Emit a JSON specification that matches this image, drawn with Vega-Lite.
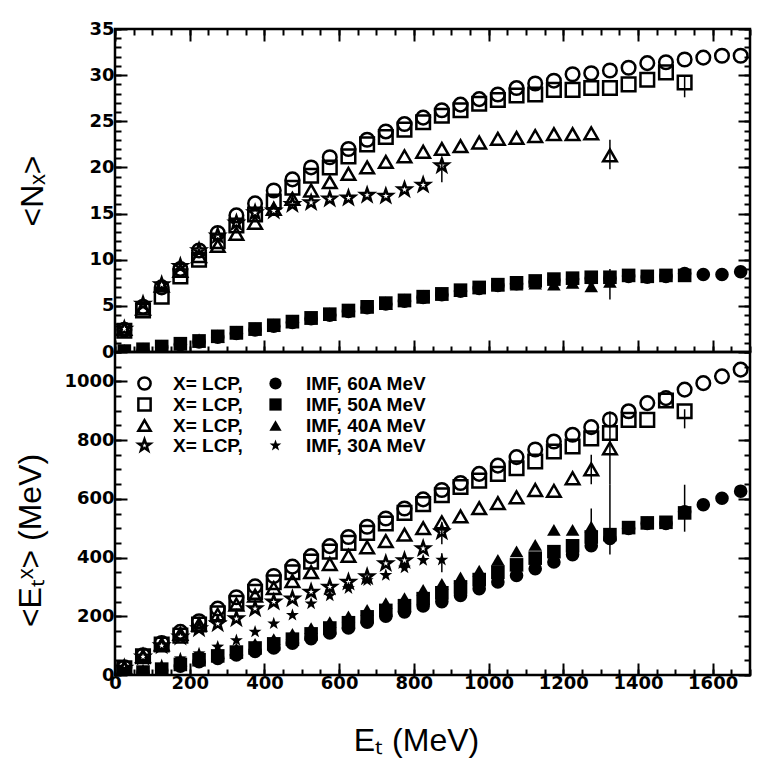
{
"$schema": "https://vega.github.io/schema/vega-lite/v6.json",
"padding": {"left": 12, "top": 18, "right": 5, "bottom": 5},
"bounds": "flush",
"spacing": 0,
"config": {
  "view": {"stroke": "black", "strokeWidth": 2.5},
  "axis": {"domain": false, "grid": false, "labelFont": "DejaVu Sans", "labelFontWeight": "bold", "labelFontSize": 18, "labelColor": "black", "tickColor": "black", "tickWidth": 2, "labelFlush": false, "labelOverlap": false, "labelBound": false, "titleFont": "Liberation Sans", "titleFontSize": 32, "titleFontWeight": "normal", "titleColor": "black"},
  "legend": {"labelFont": "Liberation Sans", "labelFontWeight": "bold", "labelFontSize": 19, "labelColor": "black", "symbolStrokeWidth": 2.5, "symbolSize": 150, "rowPadding": -5, "padding": 0, "symbolStrokeColor": "black"}
},
"resolve": {"scale": {"x": "independent", "y": "independent", "shape": "independent"}},
"datasets": {"d": [
{"p":"N","s":"L","b":"60A","e":25,"v":2.4},{"p":"N","s":"L","b":"60A","e":75,"v":4.9},{"p":"N","s":"L","b":"60A","e":125,"v":7.0},{"p":"N","s":"L","b":"60A","e":175,"v":9.0},{"p":"N","s":"L","b":"60A","e":225,"v":11.0},{"p":"N","s":"L","b":"60A","e":275,"v":12.9},{"p":"N","s":"L","b":"60A","e":325,"v":14.8},{"p":"N","s":"L","b":"60A","e":375,"v":16.1},{"p":"N","s":"L","b":"60A","e":425,"v":17.5},{"p":"N","s":"L","b":"60A","e":475,"v":18.7},{"p":"N","s":"L","b":"60A","e":525,"v":20.0},{"p":"N","s":"L","b":"60A","e":575,"v":21.1},{"p":"N","s":"L","b":"60A","e":625,"v":22.0},{"p":"N","s":"L","b":"60A","e":675,"v":23.0},{"p":"N","s":"L","b":"60A","e":725,"v":23.9},{"p":"N","s":"L","b":"60A","e":775,"v":24.7},{"p":"N","s":"L","b":"60A","e":825,"v":25.4},{"p":"N","s":"L","b":"60A","e":875,"v":26.2},{"p":"N","s":"L","b":"60A","e":925,"v":26.8},{"p":"N","s":"L","b":"60A","e":975,"v":27.4},{"p":"N","s":"L","b":"60A","e":1025,"v":27.9},{"p":"N","s":"L","b":"60A","e":1075,"v":28.6},{"p":"N","s":"L","b":"60A","e":1125,"v":29.1},{"p":"N","s":"L","b":"60A","e":1175,"v":29.4},{"p":"N","s":"L","b":"60A","e":1225,"v":30.1},{"p":"N","s":"L","b":"60A","e":1275,"v":30.2},{"p":"N","s":"L","b":"60A","e":1325,"v":30.5},{"p":"N","s":"L","b":"60A","e":1375,"v":30.8},{"p":"N","s":"L","b":"60A","e":1425,"v":31.3},{"p":"N","s":"L","b":"60A","e":1475,"v":31.4},{"p":"N","s":"L","b":"60A","e":1525,"v":31.7},{"p":"N","s":"L","b":"60A","e":1575,"v":31.9},{"p":"N","s":"L","b":"60A","e":1625,"v":32.1},{"p":"N","s":"L","b":"60A","e":1675,"v":32.1},
{"p":"N","s":"L","b":"50A","e":25,"v":2.3},{"p":"N","s":"L","b":"50A","e":75,"v":4.5},{"p":"N","s":"L","b":"50A","e":125,"v":6.0},{"p":"N","s":"L","b":"50A","e":175,"v":8.2},{"p":"N","s":"L","b":"50A","e":225,"v":10.0},{"p":"N","s":"L","b":"50A","e":275,"v":12.0},{"p":"N","s":"L","b":"50A","e":325,"v":13.7},{"p":"N","s":"L","b":"50A","e":375,"v":14.9},{"p":"N","s":"L","b":"50A","e":425,"v":16.3},{"p":"N","s":"L","b":"50A","e":475,"v":17.8},{"p":"N","s":"L","b":"50A","e":525,"v":19.1},{"p":"N","s":"L","b":"50A","e":575,"v":20.0},{"p":"N","s":"L","b":"50A","e":625,"v":21.2},{"p":"N","s":"L","b":"50A","e":675,"v":22.5},{"p":"N","s":"L","b":"50A","e":725,"v":23.3},{"p":"N","s":"L","b":"50A","e":775,"v":24.1},{"p":"N","s":"L","b":"50A","e":825,"v":24.9},{"p":"N","s":"L","b":"50A","e":875,"v":25.6},{"p":"N","s":"L","b":"50A","e":925,"v":26.2},{"p":"N","s":"L","b":"50A","e":975,"v":26.9},{"p":"N","s":"L","b":"50A","e":1025,"v":27.3},{"p":"N","s":"L","b":"50A","e":1075,"v":27.8},{"p":"N","s":"L","b":"50A","e":1125,"v":27.9},{"p":"N","s":"L","b":"50A","e":1175,"v":28.4},{"p":"N","s":"L","b":"50A","e":1225,"v":28.4},{"p":"N","s":"L","b":"50A","e":1275,"v":28.6},{"p":"N","s":"L","b":"50A","e":1325,"v":28.6},{"p":"N","s":"L","b":"50A","e":1375,"v":29.0},{"p":"N","s":"L","b":"50A","e":1425,"v":29.5},{"p":"N","s":"L","b":"50A","e":1475,"v":30.3},{"p":"N","s":"L","b":"50A","e":1525,"v":29.2,"lo":27.6,"hi":30.0},
{"p":"N","s":"L","b":"40A","e":25,"v":2.5},{"p":"N","s":"L","b":"40A","e":75,"v":4.7},{"p":"N","s":"L","b":"40A","e":125,"v":7.2},{"p":"N","s":"L","b":"40A","e":175,"v":8.8},{"p":"N","s":"L","b":"40A","e":225,"v":10.4},{"p":"N","s":"L","b":"40A","e":275,"v":11.5},{"p":"N","s":"L","b":"40A","e":325,"v":12.8},{"p":"N","s":"L","b":"40A","e":375,"v":14.0},{"p":"N","s":"L","b":"40A","e":425,"v":15.5},{"p":"N","s":"L","b":"40A","e":475,"v":16.6},{"p":"N","s":"L","b":"40A","e":525,"v":17.5},{"p":"N","s":"L","b":"40A","e":575,"v":18.4},{"p":"N","s":"L","b":"40A","e":625,"v":19.3},{"p":"N","s":"L","b":"40A","e":675,"v":20.0},{"p":"N","s":"L","b":"40A","e":725,"v":20.6},{"p":"N","s":"L","b":"40A","e":775,"v":21.2},{"p":"N","s":"L","b":"40A","e":825,"v":21.7},{"p":"N","s":"L","b":"40A","e":875,"v":22.0},{"p":"N","s":"L","b":"40A","e":925,"v":22.3},{"p":"N","s":"L","b":"40A","e":975,"v":22.7},{"p":"N","s":"L","b":"40A","e":1025,"v":23.1},{"p":"N","s":"L","b":"40A","e":1075,"v":23.2},{"p":"N","s":"L","b":"40A","e":1125,"v":23.4},{"p":"N","s":"L","b":"40A","e":1175,"v":23.6},{"p":"N","s":"L","b":"40A","e":1225,"v":23.6},{"p":"N","s":"L","b":"40A","e":1275,"v":23.7},{"p":"N","s":"L","b":"40A","e":1325,"v":21.3,"lo":19.8,"hi":23.0},
{"p":"N","s":"L","b":"30A","e":25,"v":2.5},{"p":"N","s":"L","b":"30A","e":75,"v":5.2},{"p":"N","s":"L","b":"30A","e":125,"v":7.3},{"p":"N","s":"L","b":"30A","e":175,"v":9.3},{"p":"N","s":"L","b":"30A","e":225,"v":11.0},{"p":"N","s":"L","b":"30A","e":275,"v":12.6},{"p":"N","s":"L","b":"30A","e":325,"v":14.0},{"p":"N","s":"L","b":"30A","e":375,"v":15.1},{"p":"N","s":"L","b":"30A","e":425,"v":15.3},{"p":"N","s":"L","b":"30A","e":475,"v":16.0},{"p":"N","s":"L","b":"30A","e":525,"v":16.2},{"p":"N","s":"L","b":"30A","e":575,"v":16.6},{"p":"N","s":"L","b":"30A","e":625,"v":16.7},{"p":"N","s":"L","b":"30A","e":675,"v":17.0},{"p":"N","s":"L","b":"30A","e":725,"v":16.9},{"p":"N","s":"L","b":"30A","e":775,"v":17.6},{"p":"N","s":"L","b":"30A","e":825,"v":18.1},{"p":"N","s":"L","b":"30A","e":875,"v":20.2,"lo":18.4,"hi":21.0},
{"p":"N","s":"I","b":"60A","e":25,"v":0.05},{"p":"N","s":"I","b":"60A","e":75,"v":0.2},{"p":"N","s":"I","b":"60A","e":125,"v":0.5},{"p":"N","s":"I","b":"60A","e":175,"v":0.8},{"p":"N","s":"I","b":"60A","e":225,"v":1.1},{"p":"N","s":"I","b":"60A","e":275,"v":1.6},{"p":"N","s":"I","b":"60A","e":325,"v":2.0},{"p":"N","s":"I","b":"60A","e":375,"v":2.4},{"p":"N","s":"I","b":"60A","e":425,"v":2.8},{"p":"N","s":"I","b":"60A","e":475,"v":3.2},{"p":"N","s":"I","b":"60A","e":525,"v":3.6},{"p":"N","s":"I","b":"60A","e":575,"v":4.0},{"p":"N","s":"I","b":"60A","e":625,"v":4.4},{"p":"N","s":"I","b":"60A","e":675,"v":4.8},{"p":"N","s":"I","b":"60A","e":725,"v":5.2},{"p":"N","s":"I","b":"60A","e":775,"v":5.5},{"p":"N","s":"I","b":"60A","e":825,"v":5.9},{"p":"N","s":"I","b":"60A","e":875,"v":6.2},{"p":"N","s":"I","b":"60A","e":925,"v":6.6},{"p":"N","s":"I","b":"60A","e":975,"v":6.9},{"p":"N","s":"I","b":"60A","e":1025,"v":7.2},{"p":"N","s":"I","b":"60A","e":1075,"v":7.4},{"p":"N","s":"I","b":"60A","e":1125,"v":7.6},{"p":"N","s":"I","b":"60A","e":1175,"v":7.8},{"p":"N","s":"I","b":"60A","e":1225,"v":7.9},{"p":"N","s":"I","b":"60A","e":1275,"v":8.0},{"p":"N","s":"I","b":"60A","e":1325,"v":8.0},{"p":"N","s":"I","b":"60A","e":1375,"v":8.2},{"p":"N","s":"I","b":"60A","e":1425,"v":8.1},{"p":"N","s":"I","b":"60A","e":1475,"v":8.2},{"p":"N","s":"I","b":"60A","e":1525,"v":8.5},{"p":"N","s":"I","b":"60A","e":1575,"v":8.4},{"p":"N","s":"I","b":"60A","e":1625,"v":8.4},{"p":"N","s":"I","b":"60A","e":1675,"v":8.7},
{"p":"N","s":"I","b":"50A","e":25,"v":0.1},{"p":"N","s":"I","b":"50A","e":75,"v":0.3},{"p":"N","s":"I","b":"50A","e":125,"v":0.6},{"p":"N","s":"I","b":"50A","e":175,"v":0.9},{"p":"N","s":"I","b":"50A","e":225,"v":1.2},{"p":"N","s":"I","b":"50A","e":275,"v":1.7},{"p":"N","s":"I","b":"50A","e":325,"v":2.1},{"p":"N","s":"I","b":"50A","e":375,"v":2.5},{"p":"N","s":"I","b":"50A","e":425,"v":2.9},{"p":"N","s":"I","b":"50A","e":475,"v":3.3},{"p":"N","s":"I","b":"50A","e":525,"v":3.7},{"p":"N","s":"I","b":"50A","e":575,"v":4.1},{"p":"N","s":"I","b":"50A","e":625,"v":4.5},{"p":"N","s":"I","b":"50A","e":675,"v":4.9},{"p":"N","s":"I","b":"50A","e":725,"v":5.3},{"p":"N","s":"I","b":"50A","e":775,"v":5.6},{"p":"N","s":"I","b":"50A","e":825,"v":6.0},{"p":"N","s":"I","b":"50A","e":875,"v":6.3},{"p":"N","s":"I","b":"50A","e":925,"v":6.7},{"p":"N","s":"I","b":"50A","e":975,"v":7.0},{"p":"N","s":"I","b":"50A","e":1025,"v":7.3},{"p":"N","s":"I","b":"50A","e":1075,"v":7.5},{"p":"N","s":"I","b":"50A","e":1125,"v":7.7},{"p":"N","s":"I","b":"50A","e":1175,"v":7.9},{"p":"N","s":"I","b":"50A","e":1225,"v":8.0},{"p":"N","s":"I","b":"50A","e":1275,"v":8.1},{"p":"N","s":"I","b":"50A","e":1325,"v":8.1},{"p":"N","s":"I","b":"50A","e":1375,"v":8.3},{"p":"N","s":"I","b":"50A","e":1425,"v":8.2},{"p":"N","s":"I","b":"50A","e":1475,"v":8.3},{"p":"N","s":"I","b":"50A","e":1525,"v":8.3},
{"p":"N","s":"I","b":"40A","e":25,"v":0.05},{"p":"N","s":"I","b":"40A","e":75,"v":0.2},{"p":"N","s":"I","b":"40A","e":125,"v":0.5},{"p":"N","s":"I","b":"40A","e":175,"v":0.8},{"p":"N","s":"I","b":"40A","e":225,"v":1.1},{"p":"N","s":"I","b":"40A","e":275,"v":1.6},{"p":"N","s":"I","b":"40A","e":325,"v":2.0},{"p":"N","s":"I","b":"40A","e":375,"v":2.4},{"p":"N","s":"I","b":"40A","e":425,"v":2.8},{"p":"N","s":"I","b":"40A","e":475,"v":3.2},{"p":"N","s":"I","b":"40A","e":525,"v":3.6},{"p":"N","s":"I","b":"40A","e":575,"v":4.0},{"p":"N","s":"I","b":"40A","e":625,"v":4.4},{"p":"N","s":"I","b":"40A","e":675,"v":4.8},{"p":"N","s":"I","b":"40A","e":725,"v":5.2},{"p":"N","s":"I","b":"40A","e":775,"v":5.5},{"p":"N","s":"I","b":"40A","e":825,"v":5.9},{"p":"N","s":"I","b":"40A","e":875,"v":6.2},{"p":"N","s":"I","b":"40A","e":925,"v":6.6},{"p":"N","s":"I","b":"40A","e":975,"v":6.9},{"p":"N","s":"I","b":"40A","e":1025,"v":7.2},{"p":"N","s":"I","b":"40A","e":1075,"v":7.3},{"p":"N","s":"I","b":"40A","e":1125,"v":7.4},{"p":"N","s":"I","b":"40A","e":1175,"v":7.3},{"p":"N","s":"I","b":"40A","e":1225,"v":7.5},{"p":"N","s":"I","b":"40A","e":1275,"v":7.1},{"p":"N","s":"I","b":"40A","e":1325,"v":7.6,"lo":5.7,"hi":9.0},
{"p":"N","s":"I","b":"30A","e":25,"v":0.1},{"p":"N","s":"I","b":"30A","e":75,"v":0.3},{"p":"N","s":"I","b":"30A","e":125,"v":0.6},{"p":"N","s":"I","b":"30A","e":175,"v":0.9},{"p":"N","s":"I","b":"30A","e":225,"v":1.3},{"p":"N","s":"I","b":"30A","e":275,"v":1.7},{"p":"N","s":"I","b":"30A","e":325,"v":2.1},{"p":"N","s":"I","b":"30A","e":375,"v":2.5},{"p":"N","s":"I","b":"30A","e":425,"v":2.9},{"p":"N","s":"I","b":"30A","e":475,"v":3.3},{"p":"N","s":"I","b":"30A","e":525,"v":3.7},{"p":"N","s":"I","b":"30A","e":575,"v":4.1},{"p":"N","s":"I","b":"30A","e":625,"v":4.5},{"p":"N","s":"I","b":"30A","e":675,"v":4.9},{"p":"N","s":"I","b":"30A","e":725,"v":5.3},{"p":"N","s":"I","b":"30A","e":775,"v":5.6},{"p":"N","s":"I","b":"30A","e":825,"v":6.0},{"p":"N","s":"I","b":"30A","e":875,"v":6.3},
{"p":"E","s":"L","b":"60A","e":25,"v":26},{"p":"E","s":"L","b":"60A","e":75,"v":67},{"p":"E","s":"L","b":"60A","e":125,"v":109},{"p":"E","s":"L","b":"60A","e":175,"v":147},{"p":"E","s":"L","b":"60A","e":225,"v":183},{"p":"E","s":"L","b":"60A","e":275,"v":226},{"p":"E","s":"L","b":"60A","e":325,"v":265},{"p":"E","s":"L","b":"60A","e":375,"v":302},{"p":"E","s":"L","b":"60A","e":425,"v":337},{"p":"E","s":"L","b":"60A","e":475,"v":369},{"p":"E","s":"L","b":"60A","e":525,"v":405},{"p":"E","s":"L","b":"60A","e":575,"v":439},{"p":"E","s":"L","b":"60A","e":625,"v":470},{"p":"E","s":"L","b":"60A","e":675,"v":505},{"p":"E","s":"L","b":"60A","e":725,"v":533},{"p":"E","s":"L","b":"60A","e":775,"v":567},{"p":"E","s":"L","b":"60A","e":825,"v":598},{"p":"E","s":"L","b":"60A","e":875,"v":630},{"p":"E","s":"L","b":"60A","e":925,"v":654},{"p":"E","s":"L","b":"60A","e":975,"v":685},{"p":"E","s":"L","b":"60A","e":1025,"v":713},{"p":"E","s":"L","b":"60A","e":1075,"v":742},{"p":"E","s":"L","b":"60A","e":1125,"v":768},{"p":"E","s":"L","b":"60A","e":1175,"v":795},{"p":"E","s":"L","b":"60A","e":1225,"v":818},{"p":"E","s":"L","b":"60A","e":1275,"v":844},{"p":"E","s":"L","b":"60A","e":1325,"v":870},{"p":"E","s":"L","b":"60A","e":1375,"v":898},{"p":"E","s":"L","b":"60A","e":1425,"v":926},{"p":"E","s":"L","b":"60A","e":1475,"v":943},{"p":"E","s":"L","b":"60A","e":1525,"v":972},{"p":"E","s":"L","b":"60A","e":1575,"v":994},{"p":"E","s":"L","b":"60A","e":1625,"v":1017},{"p":"E","s":"L","b":"60A","e":1675,"v":1040},
{"p":"E","s":"L","b":"50A","e":25,"v":23},{"p":"E","s":"L","b":"50A","e":75,"v":64},{"p":"E","s":"L","b":"50A","e":125,"v":104},{"p":"E","s":"L","b":"50A","e":175,"v":134},{"p":"E","s":"L","b":"50A","e":225,"v":172},{"p":"E","s":"L","b":"50A","e":275,"v":210},{"p":"E","s":"L","b":"50A","e":325,"v":246},{"p":"E","s":"L","b":"50A","e":375,"v":283},{"p":"E","s":"L","b":"50A","e":425,"v":316},{"p":"E","s":"L","b":"50A","e":475,"v":350},{"p":"E","s":"L","b":"50A","e":525,"v":386},{"p":"E","s":"L","b":"50A","e":575,"v":420},{"p":"E","s":"L","b":"50A","e":625,"v":450},{"p":"E","s":"L","b":"50A","e":675,"v":484},{"p":"E","s":"L","b":"50A","e":725,"v":516},{"p":"E","s":"L","b":"50A","e":775,"v":552},{"p":"E","s":"L","b":"50A","e":825,"v":582},{"p":"E","s":"L","b":"50A","e":875,"v":612},{"p":"E","s":"L","b":"50A","e":925,"v":640},{"p":"E","s":"L","b":"50A","e":975,"v":662},{"p":"E","s":"L","b":"50A","e":1025,"v":685},{"p":"E","s":"L","b":"50A","e":1075,"v":704},{"p":"E","s":"L","b":"50A","e":1125,"v":727},{"p":"E","s":"L","b":"50A","e":1175,"v":761},{"p":"E","s":"L","b":"50A","e":1225,"v":778},{"p":"E","s":"L","b":"50A","e":1275,"v":806},{"p":"E","s":"L","b":"50A","e":1325,"v":824},{"p":"E","s":"L","b":"50A","e":1375,"v":869},{"p":"E","s":"L","b":"50A","e":1425,"v":869},{"p":"E","s":"L","b":"50A","e":1475,"v":935},{"p":"E","s":"L","b":"50A","e":1525,"v":898,"lo":840,"hi":905},
{"p":"E","s":"L","b":"40A","e":25,"v":25},{"p":"E","s":"L","b":"40A","e":75,"v":64},{"p":"E","s":"L","b":"40A","e":125,"v":104},{"p":"E","s":"L","b":"40A","e":175,"v":140},{"p":"E","s":"L","b":"40A","e":225,"v":172},{"p":"E","s":"L","b":"40A","e":275,"v":205},{"p":"E","s":"L","b":"40A","e":325,"v":240},{"p":"E","s":"L","b":"40A","e":375,"v":270},{"p":"E","s":"L","b":"40A","e":425,"v":296},{"p":"E","s":"L","b":"40A","e":475,"v":320},{"p":"E","s":"L","b":"40A","e":525,"v":350},{"p":"E","s":"L","b":"40A","e":575,"v":378},{"p":"E","s":"L","b":"40A","e":625,"v":406},{"p":"E","s":"L","b":"40A","e":675,"v":435},{"p":"E","s":"L","b":"40A","e":725,"v":456},{"p":"E","s":"L","b":"40A","e":775,"v":478},{"p":"E","s":"L","b":"40A","e":825,"v":500},{"p":"E","s":"L","b":"40A","e":875,"v":520},{"p":"E","s":"L","b":"40A","e":925,"v":540},{"p":"E","s":"L","b":"40A","e":975,"v":568},{"p":"E","s":"L","b":"40A","e":1025,"v":585},{"p":"E","s":"L","b":"40A","e":1075,"v":605},{"p":"E","s":"L","b":"40A","e":1125,"v":630},{"p":"E","s":"L","b":"40A","e":1175,"v":627},{"p":"E","s":"L","b":"40A","e":1225,"v":670},{"p":"E","s":"L","b":"40A","e":1275,"v":700,"lo":650,"hi":750},{"p":"E","s":"L","b":"40A","e":1325,"v":772,"lo":650,"hi":897},
{"p":"E","s":"L","b":"30A","e":25,"v":24},{"p":"E","s":"L","b":"30A","e":75,"v":62},{"p":"E","s":"L","b":"30A","e":125,"v":100},{"p":"E","s":"L","b":"30A","e":175,"v":130},{"p":"E","s":"L","b":"30A","e":225,"v":158},{"p":"E","s":"L","b":"30A","e":275,"v":175},{"p":"E","s":"L","b":"30A","e":325,"v":192},{"p":"E","s":"L","b":"30A","e":375,"v":226},{"p":"E","s":"L","b":"30A","e":425,"v":249},{"p":"E","s":"L","b":"30A","e":475,"v":260},{"p":"E","s":"L","b":"30A","e":525,"v":283},{"p":"E","s":"L","b":"30A","e":575,"v":300},{"p":"E","s":"L","b":"30A","e":625,"v":317},{"p":"E","s":"L","b":"30A","e":675,"v":335},{"p":"E","s":"L","b":"30A","e":725,"v":380},{"p":"E","s":"L","b":"30A","e":775,"v":390},{"p":"E","s":"L","b":"30A","e":825,"v":431},{"p":"E","s":"L","b":"30A","e":875,"v":488,"lo":445,"hi":520},
{"p":"E","s":"I","b":"60A","e":25,"v":3},{"p":"E","s":"I","b":"60A","e":75,"v":8},{"p":"E","s":"I","b":"60A","e":125,"v":15},{"p":"E","s":"I","b":"60A","e":175,"v":30},{"p":"E","s":"I","b":"60A","e":225,"v":45},{"p":"E","s":"I","b":"60A","e":275,"v":56},{"p":"E","s":"I","b":"60A","e":325,"v":68},{"p":"E","s":"I","b":"60A","e":375,"v":80},{"p":"E","s":"I","b":"60A","e":425,"v":92},{"p":"E","s":"I","b":"60A","e":475,"v":108},{"p":"E","s":"I","b":"60A","e":525,"v":124},{"p":"E","s":"I","b":"60A","e":575,"v":143},{"p":"E","s":"I","b":"60A","e":625,"v":160},{"p":"E","s":"I","b":"60A","e":675,"v":180},{"p":"E","s":"I","b":"60A","e":725,"v":200},{"p":"E","s":"I","b":"60A","e":775,"v":215},{"p":"E","s":"I","b":"60A","e":825,"v":235},{"p":"E","s":"I","b":"60A","e":875,"v":250},{"p":"E","s":"I","b":"60A","e":925,"v":271},{"p":"E","s":"I","b":"60A","e":975,"v":294},{"p":"E","s":"I","b":"60A","e":1025,"v":317},{"p":"E","s":"I","b":"60A","e":1075,"v":339},{"p":"E","s":"I","b":"60A","e":1125,"v":362},{"p":"E","s":"I","b":"60A","e":1175,"v":385},{"p":"E","s":"I","b":"60A","e":1225,"v":410},{"p":"E","s":"I","b":"60A","e":1275,"v":440},{"p":"E","s":"I","b":"60A","e":1325,"v":465},{"p":"E","s":"I","b":"60A","e":1375,"v":499},{"p":"E","s":"I","b":"60A","e":1425,"v":516},{"p":"E","s":"I","b":"60A","e":1475,"v":516},{"p":"E","s":"I","b":"60A","e":1525,"v":556,"lo":488,"hi":648},{"p":"E","s":"I","b":"60A","e":1575,"v":580},{"p":"E","s":"I","b":"60A","e":1625,"v":602},{"p":"E","s":"I","b":"60A","e":1675,"v":626},
{"p":"E","s":"I","b":"50A","e":25,"v":4},{"p":"E","s":"I","b":"50A","e":75,"v":10},{"p":"E","s":"I","b":"50A","e":125,"v":20},{"p":"E","s":"I","b":"50A","e":175,"v":36},{"p":"E","s":"I","b":"50A","e":225,"v":52},{"p":"E","s":"I","b":"50A","e":275,"v":65},{"p":"E","s":"I","b":"50A","e":325,"v":78},{"p":"E","s":"I","b":"50A","e":375,"v":92},{"p":"E","s":"I","b":"50A","e":425,"v":106},{"p":"E","s":"I","b":"50A","e":475,"v":122},{"p":"E","s":"I","b":"50A","e":525,"v":140},{"p":"E","s":"I","b":"50A","e":575,"v":160},{"p":"E","s":"I","b":"50A","e":625,"v":178},{"p":"E","s":"I","b":"50A","e":675,"v":198},{"p":"E","s":"I","b":"50A","e":725,"v":220},{"p":"E","s":"I","b":"50A","e":775,"v":236},{"p":"E","s":"I","b":"50A","e":825,"v":260},{"p":"E","s":"I","b":"50A","e":875,"v":280},{"p":"E","s":"I","b":"50A","e":925,"v":300},{"p":"E","s":"I","b":"50A","e":975,"v":325},{"p":"E","s":"I","b":"50A","e":1025,"v":350},{"p":"E","s":"I","b":"50A","e":1075,"v":375},{"p":"E","s":"I","b":"50A","e":1125,"v":398},{"p":"E","s":"I","b":"50A","e":1175,"v":420},{"p":"E","s":"I","b":"50A","e":1225,"v":440},{"p":"E","s":"I","b":"50A","e":1275,"v":470},{"p":"E","s":"I","b":"50A","e":1325,"v":478},{"p":"E","s":"I","b":"50A","e":1375,"v":502},{"p":"E","s":"I","b":"50A","e":1425,"v":518},{"p":"E","s":"I","b":"50A","e":1475,"v":520},{"p":"E","s":"I","b":"50A","e":1525,"v":552},
{"p":"E","s":"I","b":"40A","e":25,"v":5},{"p":"E","s":"I","b":"40A","e":75,"v":12},{"p":"E","s":"I","b":"40A","e":125,"v":25},{"p":"E","s":"I","b":"40A","e":175,"v":42},{"p":"E","s":"I","b":"40A","e":225,"v":60},{"p":"E","s":"I","b":"40A","e":275,"v":75},{"p":"E","s":"I","b":"40A","e":325,"v":90},{"p":"E","s":"I","b":"40A","e":375,"v":106},{"p":"E","s":"I","b":"40A","e":425,"v":122},{"p":"E","s":"I","b":"40A","e":475,"v":140},{"p":"E","s":"I","b":"40A","e":525,"v":160},{"p":"E","s":"I","b":"40A","e":575,"v":180},{"p":"E","s":"I","b":"40A","e":625,"v":200},{"p":"E","s":"I","b":"40A","e":675,"v":222},{"p":"E","s":"I","b":"40A","e":725,"v":245},{"p":"E","s":"I","b":"40A","e":775,"v":262},{"p":"E","s":"I","b":"40A","e":825,"v":290},{"p":"E","s":"I","b":"40A","e":875,"v":310},{"p":"E","s":"I","b":"40A","e":925,"v":332},{"p":"E","s":"I","b":"40A","e":975,"v":355},{"p":"E","s":"I","b":"40A","e":1025,"v":392},{"p":"E","s":"I","b":"40A","e":1075,"v":421},{"p":"E","s":"I","b":"40A","e":1125,"v":443},{"p":"E","s":"I","b":"40A","e":1175,"v":494},{"p":"E","s":"I","b":"40A","e":1225,"v":494},{"p":"E","s":"I","b":"40A","e":1275,"v":505,"lo":440,"hi":567},{"p":"E","s":"I","b":"40A","e":1325,"v":480,"lo":410,"hi":650},
{"p":"E","s":"I","b":"30A","e":25,"v":6},{"p":"E","s":"I","b":"30A","e":75,"v":16},{"p":"E","s":"I","b":"30A","e":125,"v":33},{"p":"E","s":"I","b":"30A","e":175,"v":56},{"p":"E","s":"I","b":"30A","e":225,"v":73},{"p":"E","s":"I","b":"30A","e":275,"v":96},{"p":"E","s":"I","b":"30A","e":325,"v":118},{"p":"E","s":"I","b":"30A","e":375,"v":147},{"p":"E","s":"I","b":"30A","e":425,"v":175},{"p":"E","s":"I","b":"30A","e":475,"v":204},{"p":"E","s":"I","b":"30A","e":525,"v":243},{"p":"E","s":"I","b":"30A","e":575,"v":270},{"p":"E","s":"I","b":"30A","e":625,"v":295},{"p":"E","s":"I","b":"30A","e":675,"v":322},{"p":"E","s":"I","b":"30A","e":725,"v":340},{"p":"E","s":"I","b":"30A","e":775,"v":365},{"p":"E","s":"I","b":"30A","e":825,"v":391},{"p":"E","s":"I","b":"30A","e":875,"v":392,"lo":350,"hi":415}
]},
"vconcat": [
{
  "width": 635, "height": 323,
  "data": {"name": "d"},
  "transform": [{"filter": "datum.p == 'N'"}],
  "resolve": {"axis": {"x": "independent", "y": "independent"}, "scale": {"shape": "independent"}},
  "layer": [
    {"transform": [{"filter": "datum.s == 'L'"}],
     "mark": {"type": "point", "filled": false, "color": "black", "opacity": 1, "strokeWidth": 2.5, "size": 185, "clip": true},
     "encoding": {
       "x": {"field": "e", "type": "quantitative", "scale": {"domain": [0, 1700], "nice": false, "zero": false},
             "axis": {"orient": "bottom", "values": [0,200,400,600,800,1000,1200,1400,1600], "tickSize": -12, "labels": false, "title": null}},
       "y": {"field": "v", "type": "quantitative", "scale": {"domain": [0, 35], "nice": false},
             "axis": {"orient": "left", "values": [0,5,10,15,20,25,30,35], "tickSize": -12, "labelPadding": 13, "labelOverlap": false, "zindex": 2, "title": "<Nₓ>", "titleX": -73, "titleY": 161.5, "titleBaseline": "alphabetic", "titleAlign": "center"}},
       "shape": {"field": "b", "type": "nominal", "scale": {"domain": ["60A","50A","40A","30A"], "range": ["circle","square","triangle-up","M0,-1L0.235,-0.324L0.951,-0.309L0.38,0.124L0.588,0.809L0,0.4L-0.588,0.809L-0.38,0.124L-0.951,-0.309L-0.235,-0.324Z"]}, "legend": null}
     }},
    {"transform": [{"filter": "datum.s == 'I'"}],
     "mark": {"type": "point", "filled": true, "color": "black", "opacity": 1, "size": 185, "clip": true},
     "encoding": {
       "x": {"field": "e", "type": "quantitative", "scale": {"domain": [0, 1700], "nice": false, "zero": false},
             "axis": {"orient": "bottom", "values": [0,50,100,150,200,250,300,350,400,450,500,550,600,650,700,750,800,850,900,950,1000,1050,1100,1150,1200,1250,1300,1350,1400,1450,1500,1550,1600,1650,1700], "tickSize": -6, "labels": false, "title": null}},
       "y": {"field": "v", "type": "quantitative", "scale": {"domain": [0, 35], "nice": false},
             "axis": {"orient": "left", "values": [0,1,2,3,4,5,6,7,8,9,10,11,12,13,14,15,16,17,18,19,20,21,22,23,24,25,26,27,28,29,30,31,32,33,34,35], "tickSize": -6, "labels": false, "title": null}},
       "shape": {"field": "b", "type": "nominal", "scale": {"domain": ["60A","50A","40A","30A"], "range": ["circle","square","triangle-up","M0,-1L0.235,-0.324L0.951,-0.309L0.38,0.124L0.588,0.809L0,0.4L-0.588,0.809L-0.38,0.124L-0.951,-0.309L-0.235,-0.324Z"]}, "legend": null}
     }},
    {"transform": [{"filter": "datum.s == 'L' && isValid(datum.lo)"}],
     "mark": {"type": "rule", "color": "black", "strokeWidth": 1.5},
     "encoding": {
       "x": {"field": "e", "type": "quantitative", "scale": {"domain": [0, 1700], "nice": false, "zero": false},
             "axis": {"orient": "top", "values": [0,200,400,600,800,1000,1200,1400,1600], "tickSize": -12, "labels": false, "title": null}},
       "y": {"field": "lo", "type": "quantitative", "scale": {"domain": [0, 35], "nice": false},
             "axis": {"orient": "right", "values": [0,5,10,15,20,25,30,35], "tickSize": -12, "labels": false, "title": null}},
       "y2": {"field": "hi"}
     }},
    {"transform": [{"filter": "datum.s == 'I' && isValid(datum.lo)"}],
     "mark": {"type": "rule", "color": "black", "strokeWidth": 1.5},
     "encoding": {
       "x": {"field": "e", "type": "quantitative", "scale": {"domain": [0, 1700], "nice": false, "zero": false},
             "axis": {"orient": "top", "values": [0,50,100,150,200,250,300,350,400,450,500,550,600,650,700,750,800,850,900,950,1000,1050,1100,1150,1200,1250,1300,1350,1400,1450,1500,1550,1600,1650,1700], "tickSize": -6, "labels": false, "title": null}},
       "y": {"field": "lo", "type": "quantitative", "scale": {"domain": [0, 35], "nice": false},
             "axis": {"orient": "right", "values": [0,1,2,3,4,5,6,7,8,9,10,11,12,13,14,15,16,17,18,19,20,21,22,23,24,25,26,27,28,29,30,31,32,33,34,35], "tickSize": -6, "labels": false, "title": null}},
       "y2": {"field": "hi"}
     }}
  ]
},
{
  "width": 635, "height": 323,
  "data": {"name": "d"},
  "transform": [{"filter": "datum.p == 'E'"}],
  "resolve": {"axis": {"x": "independent", "y": "independent"}, "scale": {"shape": "independent"}, "legend": {"shape": "independent"}},
  "layer": [
    {"transform": [{"filter": "datum.s == 'L'"}],
     "mark": {"type": "point", "filled": false, "color": "black", "opacity": 1, "strokeWidth": 2.5, "size": 185, "clip": true},
     "encoding": {
       "x": {"field": "e", "type": "quantitative", "scale": {"domain": [0, 1700], "nice": false, "zero": false},
             "axis": {"orient": "bottom", "values": [0,200,400,600,800,1000,1200,1400,1600], "format": "d", "tickSize": -12, "labelPadding": 11, "labelOverlap": false, "title": "Eₜ (MeV)", "titleX": 301, "titleY": 75, "titleBaseline": "alphabetic", "titleAlign": "center"}},
       "y": {"field": "v", "type": "quantitative", "scale": {"domain": [0, 1100], "nice": false},
             "axis": {"orient": "left", "values": [0,200,400,600,800,1000], "format": "d", "tickSize": -12, "labelPadding": 13, "labelOverlap": false, "title": "<Eₜˣ> (MeV)", "titleX": -75, "titleY": 188, "titleBaseline": "alphabetic", "titleAlign": "center"}},
       "shape": {"field": "b", "type": "nominal", "scale": {"domain": ["60A","50A","40A","30A"], "range": ["circle","square","triangle-up","M0,-1L0.235,-0.324L0.951,-0.309L0.38,0.124L0.588,0.809L0,0.4L-0.588,0.809L-0.38,0.124L-0.951,-0.309L-0.235,-0.324Z"]},
                 "legend": {"orient": "none", "legendX": 20, "legendY": 22, "title": null, "labelExpr": "'X= LCP,'", "labelOffset": 19, "symbolFillColor": "transparent"}}
     }},
    {"transform": [{"filter": "datum.s == 'I'"}],
     "mark": {"type": "point", "filled": true, "color": "black", "opacity": 1, "size": 185, "clip": true},
     "encoding": {
       "x": {"field": "e", "type": "quantitative", "scale": {"domain": [0, 1700], "nice": false, "zero": false},
             "axis": {"orient": "bottom", "values": [0,50,100,150,200,250,300,350,400,450,500,550,600,650,700,750,800,850,900,950,1000,1050,1100,1150,1200,1250,1300,1350,1400,1450,1500,1550,1600,1650,1700], "tickSize": -6, "labels": false, "title": null}},
       "y": {"field": "v", "type": "quantitative", "scale": {"domain": [0, 1100], "nice": false},
             "axis": {"orient": "left", "values": [0,50,100,150,200,250,300,350,400,450,500,550,600,650,700,750,800,850,900,950,1000,1050,1100], "tickSize": -6, "labels": false, "title": null}},
       "shape": {"field": "b", "type": "nominal", "scale": {"domain": ["60A","50A","40A","30A"], "range": ["circle","square","triangle-up","M0,-1L0.235,-0.324L0.951,-0.309L0.38,0.124L0.588,0.809L0,0.4L-0.588,0.809L-0.38,0.124L-0.951,-0.309L-0.235,-0.324Z"]},
                 "legend": {"orient": "none", "legendX": 151, "legendY": 22, "title": null, "labelExpr": "'IMF, ' + datum.label + ' MeV'", "labelOffset": 21, "symbolFillColor": "black"}}
     }},
    {"transform": [{"filter": "datum.s == 'L' && isValid(datum.lo)"}],
     "mark": {"type": "rule", "color": "black", "strokeWidth": 1.5},
     "encoding": {
       "x": {"field": "e", "type": "quantitative", "scale": {"domain": [0, 1700], "nice": false, "zero": false}, "axis": null},
       "y": {"field": "lo", "type": "quantitative", "scale": {"domain": [0, 1100], "nice": false},
             "axis": {"orient": "right", "values": [0,200,400,600,800,1000], "tickSize": -12, "labels": false, "title": null}},
       "y2": {"field": "hi"}
     }},
    {"transform": [{"filter": "datum.s == 'I' && isValid(datum.lo)"}],
     "mark": {"type": "rule", "color": "black", "strokeWidth": 1.5},
     "encoding": {
       "x": {"field": "e", "type": "quantitative", "scale": {"domain": [0, 1700], "nice": false, "zero": false}, "axis": null},
       "y": {"field": "lo", "type": "quantitative", "scale": {"domain": [0, 1100], "nice": false},
             "axis": {"orient": "right", "values": [0,50,100,150,200,250,300,350,400,450,500,550,600,650,700,750,800,850,900,950,1000,1050,1100], "tickSize": -6, "labels": false, "title": null}},
       "y2": {"field": "hi"}
     }}
  ]
}
]
}
